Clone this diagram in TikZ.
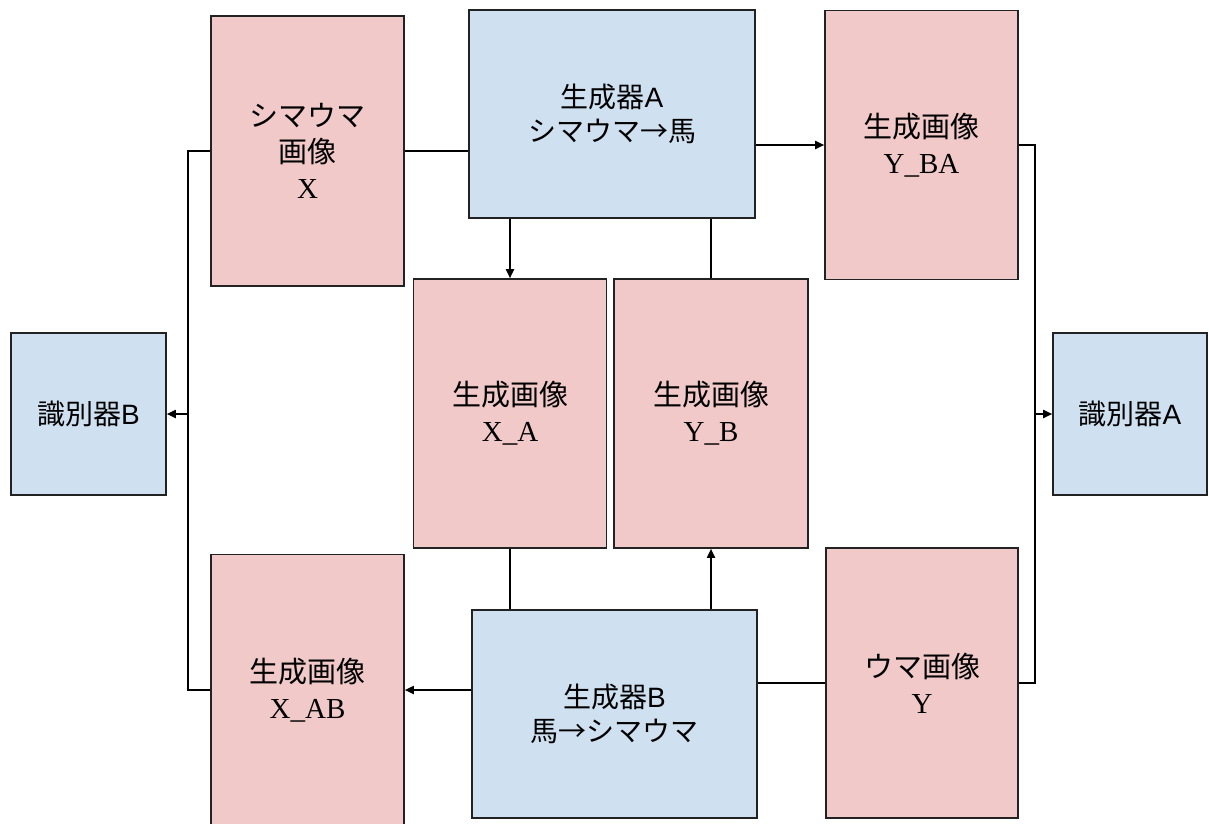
\documentclass[tikz,border=0pt]{standalone}
\usepackage{fontspec}
\setmainfont{Liberation Serif}
\newfontfamily\jp{Noto Sans CJK JP}
\newfontfamily\sansfnt{Liberation Sans}
\usetikzlibrary{arrows.meta}
\definecolor{pinkfill}{HTML}{F1C9C9}
\definecolor{bluefill}{HTML}{CFE1F1}
\definecolor{edgecol}{HTML}{222222}
\begin{document}
\begin{tikzpicture}[x=1pt,y=-1pt,
  imgbox/.style={draw=edgecol,line width=1.6pt,fill=pinkfill,inner sep=0pt,align=center,
    font=\fontsize{29}{36}\selectfont},
  netbox/.style={draw=edgecol,line width=1.6pt,fill=bluefill,inner sep=0pt,align=center,
    font=\fontsize{28}{34}\selectfont\sansfnt},
  conn/.style={draw=black,line width=1.8pt},
  arr/.style={conn,-{Triangle[length=9pt,width=8pt]}}]
\useasboundingbox (0,0) rectangle (1209,823);

\node[imgbox,minimum width=193pt,minimum height=270pt] (X) at (307.5,151) {{\jp シマウマ}\\{\jp 画像}\\X};
\node[netbox,minimum width=286pt,minimum height=208pt] (GA) at (612,114) {{\jp 生成器}A\\{\jp シマウマ→馬}};
\node[imgbox,minimum width=193pt,minimum height=269pt] (YBA) at (921.5,145) {{\jp 生成画像}\\Y\_BA};
\node[netbox,minimum width=155pt,minimum height=162pt] (DB) at (88.5,414) {{\jp 識別器}B};
\node[imgbox,minimum width=193pt,minimum height=269pt] (XA) at (510,413.5) {{\jp 生成画像}\\X\_A};
\node[imgbox,minimum width=194pt,minimum height=269pt] (YB) at (711,413.5) {{\jp 生成画像}\\Y\_B};
\node[netbox,minimum width=154pt,minimum height=162pt] (DA) at (1130,414) {{\jp 識別器}A};
\node[imgbox,minimum width=193pt,minimum height=271pt] (XAB) at (307.5,690) {{\jp 生成画像}\\X\_AB};
\node[netbox,minimum width=285pt,minimum height=208pt] (GB) at (614.5,714) {{\jp 生成器}B\\{\jp 馬→シマウマ}};
\node[imgbox,minimum width=192pt,minimum height=270pt] (Y) at (922,683) {{\jp ウマ画像}\\Y};

\coordinate (lb) at (188,414);
\coordinate (rb) at (1035,414);

% left loop
\draw[conn] (X.west) -| (lb) |- (XAB.west);
\draw[arr] (lb) -- (DB.east);
% X -> GA
\draw[conn] (X.east) -- (GA.west |- X.east);
% GA -> YBA
\draw[arr] (GA.east |- YBA.west) -- (YBA.west);
% right loop
\draw[conn] (YBA.east) -| (rb) |- (Y.east);
\draw[arr] (rb) -- (DA.west);
% GA -> XA
\draw[arr] (XA.north |- GA.south) -- (XA.north);
% YB -- GA
\draw[conn] (YB.north) -- (YB.north |- GA.south);
% XA -- GB
\draw[conn] (XA.south) -- (XA.south |- GB.north);
% GB -> YB
\draw[arr] (YB.south |- GB.north) -- (YB.south);
% GB -> XAB
\draw[arr] (GB.west |- XAB.east) -- (XAB.east);
% Y -- GB
\draw[conn] (Y.west) -- (GB.east |- Y.west);
\end{tikzpicture}
\end{document}
